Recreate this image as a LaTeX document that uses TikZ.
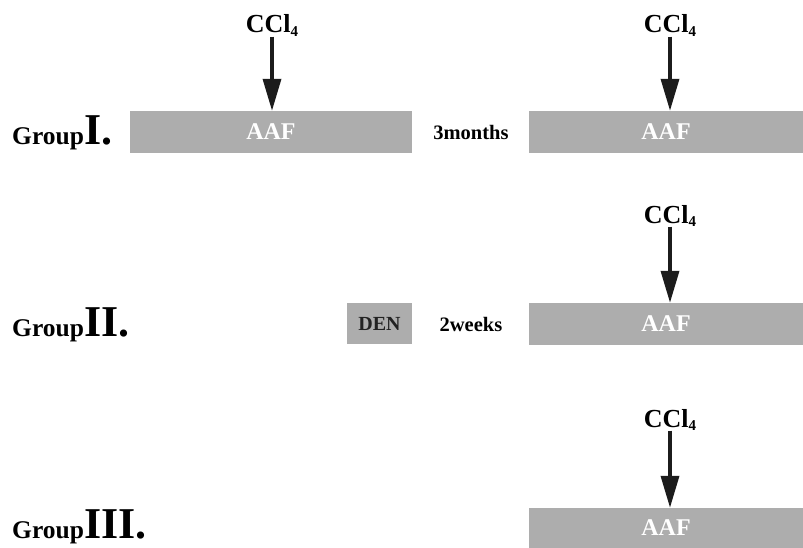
\documentclass[tikz,border=0pt]{standalone}
\usepackage{fontspec}
\setmainfont{Liberation Serif}
\usetikzlibrary{arrows.meta}
\definecolor{bargray}{RGB}{173,173,173}
\definecolor{arrowblack}{RGB}{28,28,28}
\definecolor{dentext}{RGB}{34,34,34}
\newcommand{\subfour}{\raisebox{-3.5pt}{\fontsize{15}{15}\selectfont 4}}
\begin{document}
\begin{tikzpicture}[x=1pt,y=-1pt,
  bar/.style={fill=bargray, draw=none, inner sep=0pt, minimum height=42pt,
    text=white, font=\fontsize{24}{24}\selectfont\bfseries},
  denbox/.style={fill=bargray, draw=none, inner sep=0pt, minimum width=65pt,
    minimum height=41pt, text=dentext, font=\fontsize{20}{20}\selectfont\bfseries},
  cclab/.style={inner sep=0pt, anchor=base, font=\fontsize{26}{26}\selectfont\bfseries},
  period/.style={inner sep=0pt, font=\fontsize{20.5}{20.5}\selectfont\bfseries},
  grouplab/.style={inner sep=0pt, anchor=base west, font=\bfseries},
  arr/.style={draw=arrowblack, line width=3.5pt,
    -{Triangle[length=32pt,width=18pt]}}
]
\useasboundingbox (0,0) rectangle (803,548);

% Group I
\node[grouplab] (g1) at (12,145) {\fontsize{25.5}{26}\selectfont Group\fontsize{44}{44}\selectfont I.};
\node[bar, minimum width=282pt] (a1) at (271,132) {AAF};
\node[period] (p1) at (471,132) {3months};
\node[bar, minimum width=274pt] (b1) at (666,132) {AAF};
\node[cclab] (c1) at (272,33) {CCl\subfour};
\node[cclab] (c2) at (670,33) {CCl\subfour};
\draw[arr] (c1.south) -- (c1.south |- a1.north);
\draw[arr] (c2.south) -- (c2.south |- b1.north);

% Group II
\node[grouplab] (g2) at (12,336) {\fontsize{25.5}{26}\selectfont Group\fontsize{44}{44}\selectfont II.};
\node[denbox] (d2) at (379.5,323.5) {DEN};
\node[period] (p2) at (471,324) {2weeks};
\node[bar, minimum width=274pt] (b2) at (666,324) {AAF};
\node[cclab] (c3) at (670,223) {CCl\subfour};
\draw[arr] (c3.south) -- (c3.south |- b2.north);

% Group III
\node[grouplab] (g3) at (12,538) {\fontsize{25.5}{26}\selectfont Group\fontsize{44}{44}\selectfont III.};
\node[bar, minimum width=274pt, minimum height=40pt] (b3) at (666,528) {AAF};
\node[cclab] (c4) at (670,427) {CCl\subfour};
\draw[arr] (c4.south) -- (c4.south |- b3.north);
\end{tikzpicture}
\end{document}
